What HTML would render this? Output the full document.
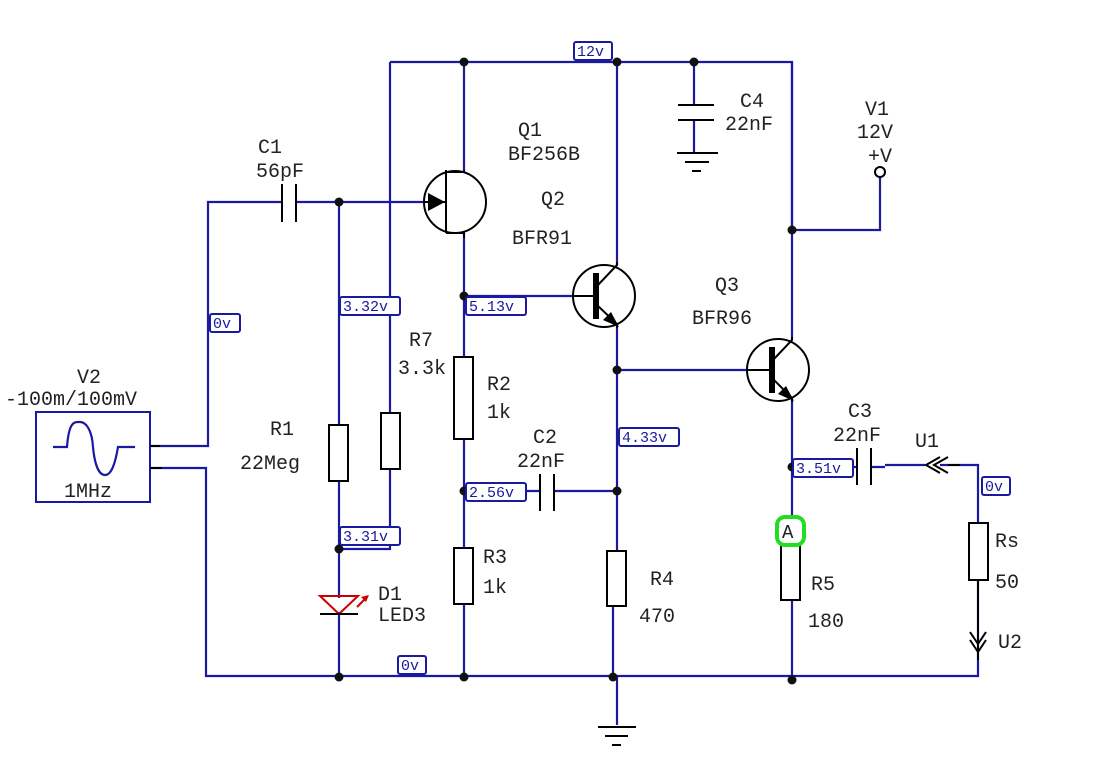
<!DOCTYPE html>
<html><head><meta charset="utf-8"><style>
html,body{margin:0;padding:0;background:#fff}
svg{display:block}
text{font-family:"Liberation Mono","DejaVu Sans Mono",monospace;font-size:20px;fill:#222}
.w{stroke:#1a1aa0;stroke-width:2.2;fill:none}
.k{stroke:#000;stroke-width:2;fill:none}
.lb{fill:#fff;stroke:#1a1aa0;stroke-width:2}
.lt{font-size:15px;fill:#1a1aa0}
</style></head><body>
<svg width="1093" height="769" viewBox="0 0 1093 769" xmlns="http://www.w3.org/2000/svg">
<!-- wires -->
<g class="w">
<path d="M390 62H792V230H880V177"/>
<path d="M390 62V413M390 469V549H339"/>
<path d="M150 446H208V202H282M296 202H423"/>
<path d="M150 468H206V676H978V580M978 523V465H940"/>
<path d="M339 202V425M339 481V598M339 612V676"/>
<path d="M464 62V172M464 233V357M464 439V548M464 604V676"/>
<path d="M464 296H573"/>
<path d="M617 62V265M617 326V551M613 606V676M617 676V725"/>
<path d="M617 370H748"/>
<path d="M464 491H540M554 491H617"/>
<path d="M694 62V105M694 120V153"/>
<path d="M792 62V340M792 400V520M792 545M792 600V680"/>
<path d="M792 467H857M871 467H885M885 465H925"/>
</g>
<!-- dots -->
<g fill="#111">
<circle cx="464" cy="62" r="4.5"/><circle cx="617" cy="62" r="4.5"/><circle cx="694" cy="62" r="4.5"/>
<circle cx="339" cy="202" r="4.5"/><circle cx="792" cy="230" r="4.5"/><circle cx="464" cy="296" r="4.5"/>
<circle cx="617" cy="370" r="4.5"/><circle cx="464" cy="491" r="4.5"/><circle cx="617" cy="491" r="4.5"/>
<circle cx="792" cy="467" r="4.5"/><circle cx="339" cy="549" r="4.5"/>
<circle cx="339" cy="677" r="4.5"/><circle cx="464" cy="677" r="4.5"/><circle cx="613" cy="677" r="4.5"/><circle cx="792" cy="680" r="4.5"/>
</g>
<!-- V2 source -->
<rect x="36" y="412" width="114" height="90" fill="#fff" stroke="#1a1aa0" stroke-width="2"/>
<path class="w" d="M53 447H67C69 420 75 422 80 422C86 422 92 430 93 447C95 468 100 475 105 475C111 475 115 465 118 447H135"/>
<path class="k" d="M150 446H160M150 468H162"/>
<!-- capacitors -->
<g class="k" stroke-width="2.5">
<path d="M282 184V222M296 184V222"/>
<path d="M540 474V511M554 474V511"/>
<path d="M857 448V485M871 448V485"/>
<path d="M678 105H714M678 120H714"/>
<path d="M677 153H718M685 162H709M692 171H701" stroke-width="2"/>
<path d="M598 727H636M605 736H628M612 745H621" stroke-width="2"/>
</g>
<!-- resistors -->
<g class="k" fill="#fff">
<rect x="329" y="425" width="19" height="56" fill="#fff"/>
<rect x="381" y="413" width="19" height="56" fill="#fff"/>
<rect x="454" y="357" width="19" height="82" fill="#fff"/>
<rect x="454" y="548" width="19" height="56" fill="#fff"/>
<rect x="607" y="551" width="19" height="55" fill="#fff"/>
<rect x="781" y="545" width="19" height="55" fill="#fff"/>
<rect x="969" y="523" width="19" height="57" fill="#fff"/>
</g>
<!-- JFET Q1 -->
<circle cx="455" cy="202" r="31" class="k"/>
<path class="k" d="M423 202H446M446 170V233M446 172H464V170M446 233H464V238" stroke-width="2"/>
<path d="M445 202L428 193V211Z" fill="#000"/>
<!-- BJT Q2 -->
<circle cx="604" cy="296" r="31" class="k"/>
<path class="k" d="M573 296H596M617 262V265L598 285M598 306L617 324V328" stroke-width="2"/>
<rect x="593" y="273" width="6" height="46" fill="#000"/>
<path d="M619 327L603 320L611 312Z" fill="#000"/>
<!-- BJT Q3 -->
<circle cx="778" cy="370" r="31" class="k"/>
<path class="k" d="M748 370H772M792 337V340L774 359M774 380L792 398V402" stroke-width="2"/>
<rect x="769" y="347" width="6" height="46" fill="#000"/>
<path d="M794 401L778 394L786 386Z" fill="#000"/>
<!-- LED -->
<path d="M320 596H358L339 614Z" fill="none" stroke="#c00" stroke-width="2"/>
<path class="k" d="M320 614H358"/>
<path d="M357 607L367 597" stroke="#c00" stroke-width="2"/><path d="M369 595L361 597L366 602Z" fill="#c00"/>
<!-- V1 terminal -->
<circle cx="880" cy="172" r="5" fill="#fff" stroke="#000" stroke-width="2"/>
<!-- U1 / U2 connectors -->
<path class="k" d="M940 457L926 465L940 473M948 457L934 465L948 473M948 465H960" stroke-width="2"/>
<path class="k" d="M978 580V660M970 632L978 644L986 632M970 640L978 652L986 640" stroke-width="2"/>
<!-- ammeter A -->
<rect x="777" y="517" width="27" height="28" rx="8" fill="#fff" stroke="#22dd22" stroke-width="4"/>
<text x="782" y="538" style="font-size:19px">A</text>
<!-- voltage labels -->
<g>
<rect class="lb" x="574" y="42" width="38" height="18" rx="2"/><text class="lt" x="577" y="56">12v</text>
<rect class="lb" x="210" y="314" width="30" height="18" rx="2"/><text class="lt" x="213" y="328">0v</text>
<rect class="lb" x="340" y="297" width="60" height="18" rx="2"/><text class="lt" x="343" y="311">3.32v</text>
<rect class="lb" x="466" y="297" width="60" height="18" rx="2"/><text class="lt" x="469" y="311">5.13v</text>
<rect class="lb" x="619" y="428" width="60" height="18" rx="2"/><text class="lt" x="622" y="442">4.33v</text>
<rect class="lb" x="466" y="483" width="60" height="18" rx="2"/><text class="lt" x="469" y="497">2.56v</text>
<rect class="lb" x="340" y="527" width="60" height="18" rx="2"/><text class="lt" x="343" y="541">3.31v</text>
<rect class="lb" x="793" y="459" width="60" height="18" rx="2"/><text class="lt" x="796" y="473">3.51v</text>
<rect class="lb" x="398" y="656" width="28" height="18" rx="2"/><text class="lt" x="401" y="670">0v</text>
<rect class="lb" x="982" y="477" width="28" height="18" rx="2"/><text class="lt" x="985" y="491">0v</text>
</g>
<!-- component labels -->
<text x="258" y="153">C1</text><text x="256" y="177">56pF</text>
<text x="518" y="136">Q1</text><text x="508" y="160">BF256B</text>
<text x="541" y="205">Q2</text><text x="512" y="244">BFR91</text>
<text x="740" y="107">C4</text><text x="725" y="130">22nF</text>
<text x="865" y="115">V1</text><text x="857" y="138">12V</text><text x="868" y="162">+V</text>
<text x="715" y="291">Q3</text><text x="692" y="324">BFR96</text>
<text x="77" y="383">V2</text><text x="5" y="405">-100m/100mV</text><text x="64" y="497">1MHz</text>
<text x="409" y="346">R7</text><text x="398" y="374">3.3k</text>
<text x="487" y="390">R2</text><text x="487" y="418">1k</text>
<text x="270" y="435">R1</text><text x="240" y="469">22Meg</text>
<text x="533" y="443">C2</text><text x="517" y="467">22nF</text>
<text x="848" y="417">C3</text><text x="833" y="441">22nF</text>
<text x="915" y="447">U1</text>
<text x="483" y="563">R3</text><text x="483" y="593">1k</text>
<text x="378" y="600">D1</text><text x="378" y="621">LED3</text>
<text x="650" y="585">R4</text><text x="639" y="622">470</text>
<text x="811" y="590">R5</text><text x="808" y="627">180</text>
<text x="995" y="547">Rs</text><text x="995" y="588">50</text>
<text x="998" y="648">U2</text>
</svg>
</body></html>
